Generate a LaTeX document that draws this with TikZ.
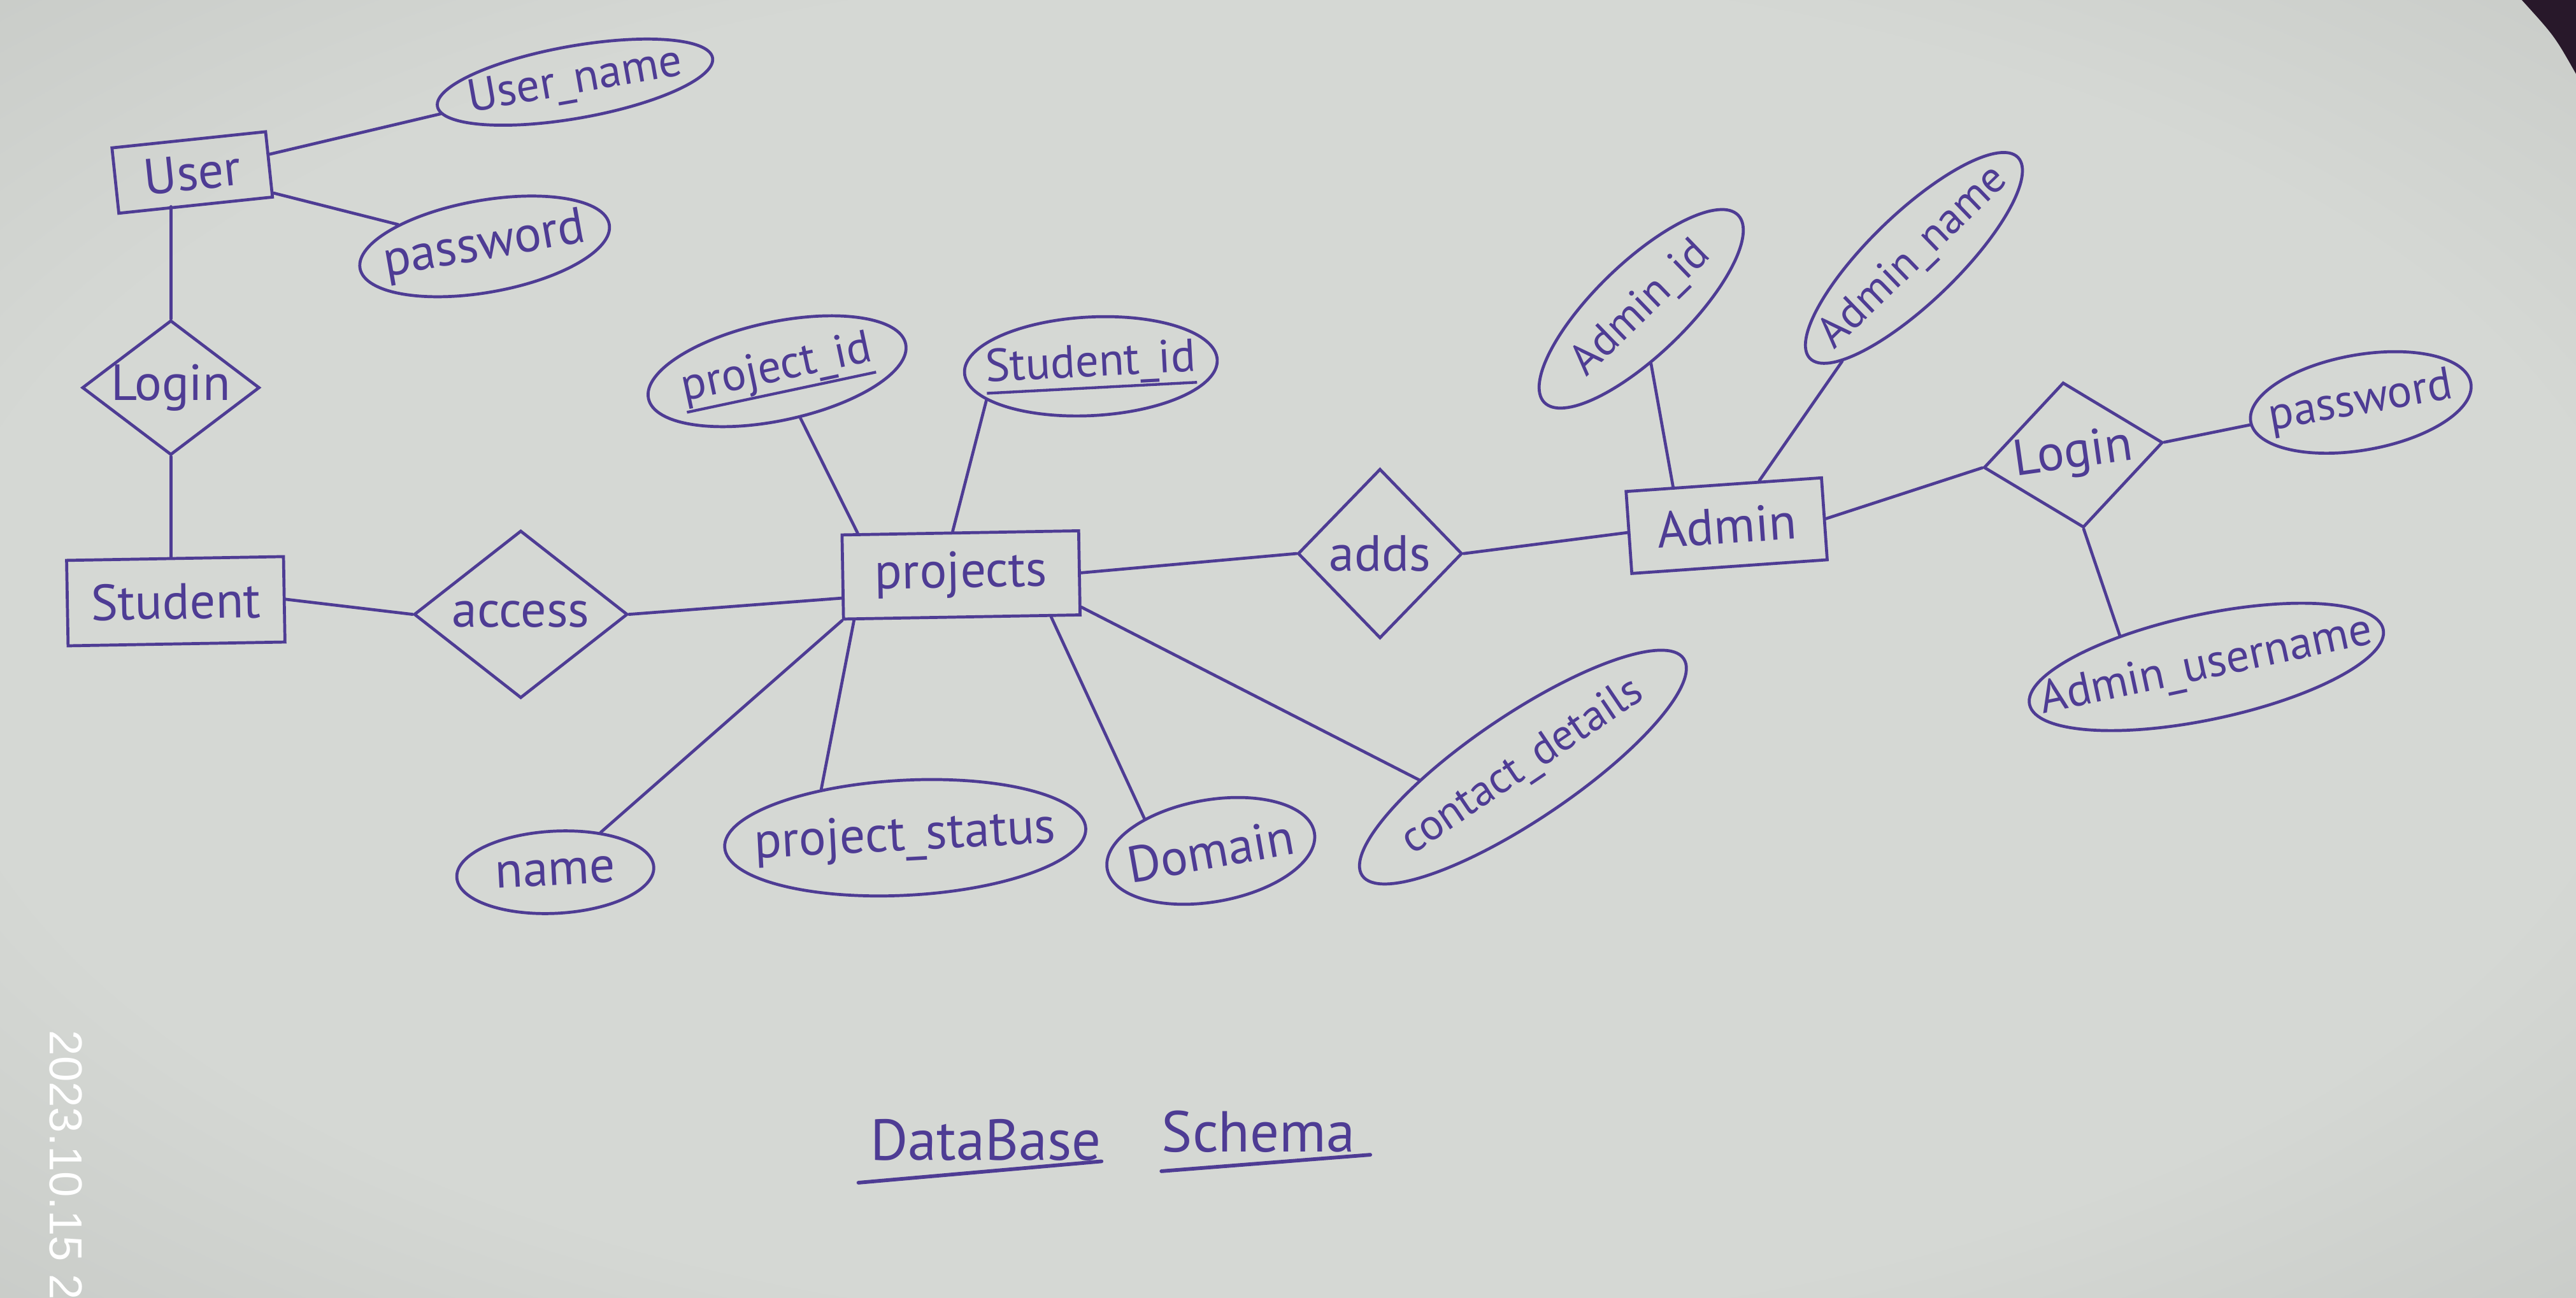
\documentclass[tikz,border=0pt]{standalone}
\usepackage{fontspec}
\setmainfont{PT Sans}
\newfontfamily\stampfont{Liberation Sans}
\usetikzlibrary{shapes.geometric}
\definecolor{ink}{RGB}{78,60,148}
\definecolor{paperC}{RGB}{213,216,212}
\definecolor{paperE}{RGB}{158,161,158}
\definecolor{cornerdark}{RGB}{40,24,42}
\pgfdeclareradialshading{paperglow}{\pgfpoint{0bp}{0bp}}{color(0bp)=(paperC); color(26bp)=(paperC); color(72bp)=(paperE)}
\newcommand\handfont{\fontsize{22}{26}\selectfont}
\newcommand\smallhand{\fontsize{20}{24}\selectfont}
\newcommand\mklbl[1]{\makebox[0pt]{#1}}
\newcommand\handul[1]{\setbox0\hbox{#1}\rlap{\raisebox{-0.28em}{\rule{\wd0}{1.2pt}}}\box0}
\begin{document}
\begin{tikzpicture}[x=0.025cm,y=-0.025cm,
  pen/.style={draw=ink, line width=1.3pt},
  link/.style={draw=ink, line width=1.3pt, line cap=round},
  entity/.style={pen, rectangle, inner sep=0pt, font=\handfont, text=ink},
  relation/.style={pen, diamond, inner sep=0pt, font=\handfont, text=ink},
  attr/.style={pen, ellipse, inner sep=0pt, font=\handfont, text=ink},
  title/.style={font=\fontsize{25}{28}\selectfont, text=ink, inner sep=0pt}]
\useasboundingbox (0,0) rectangle (1568,790);
\shade[shading=paperglow] (0,0) rectangle (1568,790);
\fill[cornerdark] (1535,0) -- (1568,0) -- (1568,45) .. controls (1555,22) .. (1535,0);

% entities
\node[entity, minimum width=2.35cm, minimum height=1.0cm, rotate=6] (user) at (117,105) {User};
\node[entity, minimum width=3.3cm, minimum height=1.3cm, rotate=1] (student) at (107,366) {Student};
\node[entity, minimum width=3.6cm, minimum height=1.28cm, rotate=1] (projects) at (585,350) {projects};
\node[entity, minimum width=2.98cm, minimum height=1.25cm, rotate=4] (admin) at (1051,320) {Admin};

% relations
\node[relation, minimum width=2.7cm, minimum height=2.05cm] (login1) at (104,236) {\mklbl{Login}};
\node[relation, minimum width=3.25cm, minimum height=2.55cm] (access) at (317,374) {\mklbl{access}};
\node[relation, minimum width=2.5cm, minimum height=2.58cm] (adds) at (840,337) {\mklbl{adds}};
\node[relation, minimum width=2.75cm, minimum height=2.23cm, rotate=8] (login2) at (1262,277) {\mklbl{Login}};

% attributes
\node[attr, minimum width=4.25cm, minimum height=1.1cm, rotate=10, font=\smallhand] (uname) at (350,50) {\mklbl{User\_name}};
\node[attr, minimum width=3.85cm, minimum height=1.4cm, rotate=10] (upass) at (295,150) {\mklbl{password}};
\node[attr, minimum width=4.0cm, minimum height=1.5cm, rotate=12, font=\smallhand] (pid) at (473,226) {\mklbl{\handul{project\_id}}};
\node[attr, minimum width=3.85cm, minimum height=1.5cm, rotate=3, font=\smallhand] (sid) at (664,223) {\mklbl{\handul{Student\_id}}};
\node[attr, minimum width=3.0cm, minimum height=1.25cm, rotate=3] (name) at (338,531) {\mklbl{name}};
\node[attr, minimum width=5.5cm, minimum height=1.75cm, rotate=3] (pstatus) at (551,510) {\mklbl{project\_status}};
\node[attr, minimum width=3.2cm, minimum height=1.55cm, rotate=10] (domain) at (737,518) {\mklbl{Domain}};
\node[attr, minimum width=5.9cm, minimum height=1.6cm, rotate=34, font=\fontsize{19}{22}\selectfont] (contact) at (927,467) {\mklbl{contact\_details}};
\node[attr, minimum width=4.1cm, minimum height=1.4cm, rotate=44, font=\fontsize{19}{22}\selectfont] (aid) at (999,188) {\mklbl{Admin\_id}};
\node[attr, minimum width=4.4cm, minimum height=1.35cm, rotate=44, font=\fontsize{19}{22}\selectfont] (aname) at (1165,157) {\mklbl{Admin\_name}};
\node[attr, minimum width=3.4cm, minimum height=1.45cm, rotate=10, font=\smallhand] (apass) at (1437,245) {\mklbl{password}};
\node[attr, minimum width=5.5cm, minimum height=1.6cm, rotate=12, font=\smallhand] (auser) at (1343,406) {\mklbl{Admin\_username}};

% connectors
\draw[link] (user) -- (uname);
\draw[link] (user) -- (upass);
\draw[link] (login1.north |- user.south) -- (login1.north);
\draw[link] (login1.south) -- (login1.south |- student.north);
\draw[link] (student.east) -- (access.west);
\draw[link] (access.east) -- (projects.190);
\draw[link] (projects.157) -- (pid);
\draw[link] (projects.100) -- (sid.-165);
\draw[link] (projects.east) -- (adds.west);
\draw[link] (projects.south west) -- (name);
\draw[link] (projects.-158) -- (pstatus.147);
\draw[link] (projects.-26) -- (domain.144);
\draw[link] (projects.-16) -- (contact.153);
\draw[link] (adds.east) -- (admin.west);
\draw[link] (admin.140) -- (aid);
\draw[link] (admin.50) -- (aname);
\draw[link] (admin.east) -- (login2.west);
\draw[link] (login2.east) -- (apass);
\draw[link] (login2.south) -- (auser.148);

% title
\node[title] (db) at (600,694) {DataBase};
\node[title] (schema) at (766,689) {Schema};
\draw[link, line width=1.6pt] ([shift={(-7,26)}]db.west) -- ([shift={(0,13)}]db.east);
\draw[link, line width=1.6pt] ([shift={(0,24)}]schema.west) -- ([shift={(9,14)}]schema.east);

% photo timestamp
\node[font=\stampfont\fontsize{20}{22}\selectfont, text=white, rotate=-90, anchor=west, inner sep=0pt] (stamp) at (40,627) {2023.10.15 2};
\end{tikzpicture}
\end{document}
